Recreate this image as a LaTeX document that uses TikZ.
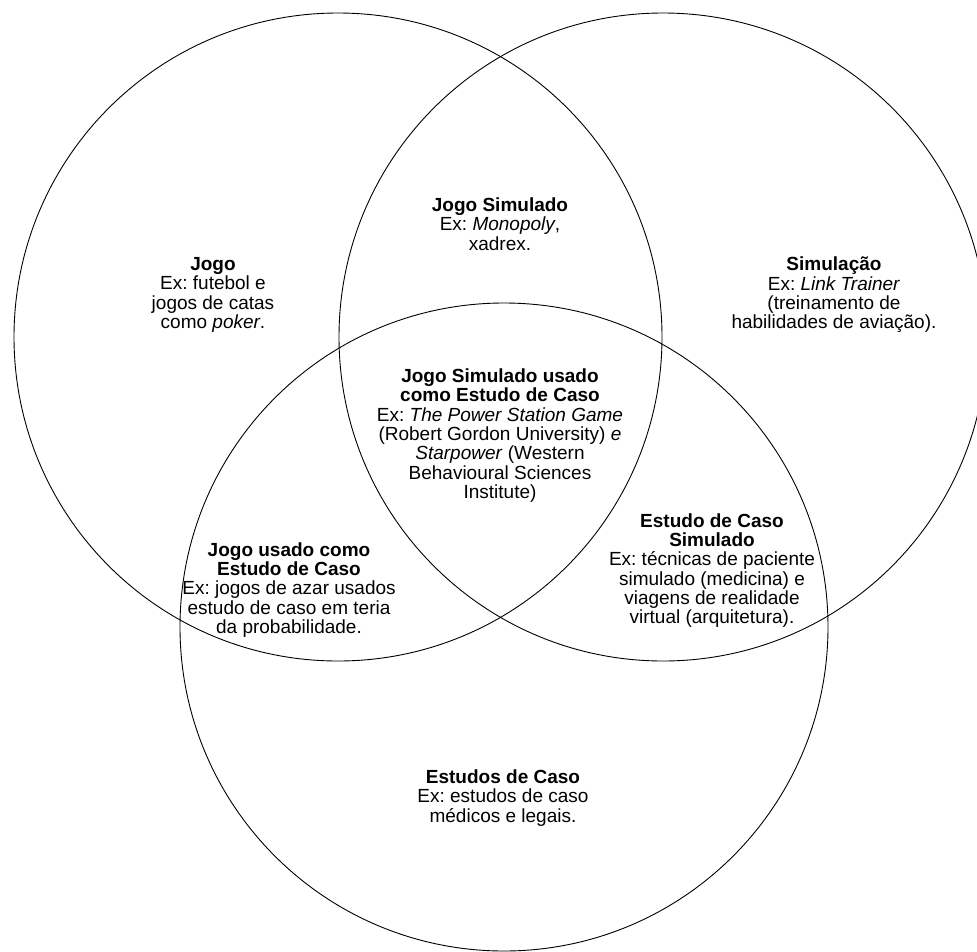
\documentclass[tikz,border=0pt]{standalone}
\usepackage{fontspec}
\setmainfont{Liberation Sans}
\frenchspacing
\begin{document}
\begin{tikzpicture}[x=1pt,y=-1pt,
  setcircle/.style={draw=black, line width=0.9pt, circle, inner sep=0pt, minimum size=648pt},
  region/.style={align=center, inner sep=0pt, font=\fontsize{19}{19.3}\selectfont}]
  \useasboundingbox (0,0) rectangle (977,951);
  \begin{scope}
    \clip (0,0) rectangle (977,951);
    % the three sets
    \node[setcircle] (jogoset) at (338,337) {};
    \node[setcircle] (simset) at (663,337) {};
    \node[setcircle] (casoset) at (504,627) {};
  \end{scope}

  % region labels
  \node[region] (jogo) at (213,295)
    {\textbf{Jogo}\\Ex: futebol e\\jogos de catas\\como \textit{poker}.};
  \node[region] (jogosim) at (500,224)
    {\textbf{Jogo Simulado}\\Ex: \textit{Monopoly},\\xadrex.};
  \node[region] (simul) at (834,295)
    {\textbf{Simulação}\\Ex: \textit{Link Trainer}\\(treinamento de\\habilidades de aviação).};
  \node[region] (centro) at (500,435.5)
    {\textbf{Jogo Simulado usado}\\\textbf{como Estudo de Caso}\\Ex: \textit{The Power Station Game}\\(Robert Gordon University) \textit{e}\\\textit{Starpower} (Western\\Behavioural Sciences\\Institute)};
  \node[region] (jogocaso) at (289,590)
    {\textbf{Jogo usado como}\\\textbf{Estudo de Caso}\\Ex: jogos de azar usados\\estudo de caso em teria\\da probabilidade.};
  \node[region] (casosim) at (712,570.5)
    {\textbf{Estudo de Caso}\\\textbf{Simulado}\\Ex: técnicas de paciente\\simulado (medicina) e\\viagens de realidade\\virtual (arquitetura).};
  \node[region] (casos) at (503,798)
    {\textbf{Estudos de Caso}\\Ex: estudos de caso\\médicos e legais.};
\end{tikzpicture}
\end{document}
